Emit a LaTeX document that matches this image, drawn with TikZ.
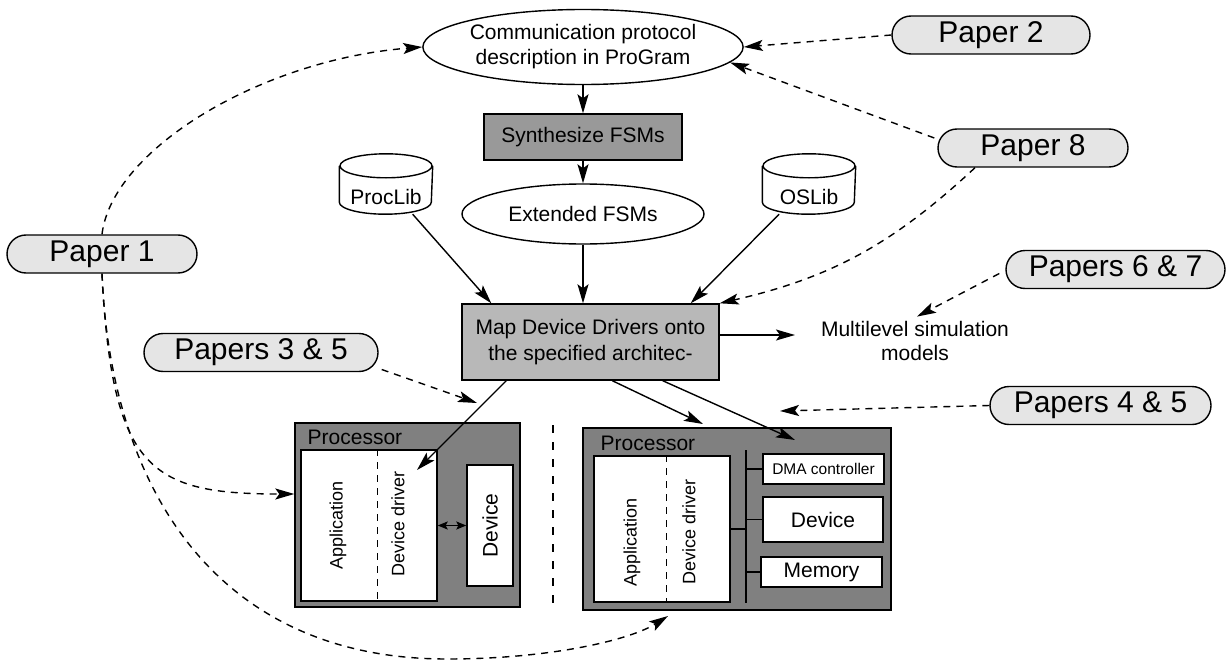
\documentclass[tikz,border=0pt]{standalone}
\usepackage{fontspec}
\setmainfont{Liberation Sans}
\usetikzlibrary{arrows.meta,shapes.geometric,shapes.misc}
\definecolor{pillgray}{gray}{0.9}
\definecolor{synthgray}{gray}{0.6}
\definecolor{mapgray}{gray}{0.72}
\definecolor{procgray}{gray}{0.5}

\begin{document}
\begin{tikzpicture}[x=1pt,y=-1pt,
  every node/.style={font=\fontsize{21}{25}\selectfont, inner sep=0pt},
  line width=1.4pt,
  arr/.style={-{Stealth[length=19pt,width=11pt,inset=4pt]}},
  darr/.style={arr, line width=1.4pt, dash pattern=on 7pt off 6pt},
  dbl/.style={{Stealth[length=10pt,width=8pt,inset=2pt]}-{Stealth[length=10pt,width=8pt,inset=2pt]}, line width=1.2pt},
  pill/.style={rounded rectangle, draw, fill=pillgray, minimum height=38pt,
    font=\fontsize{30}{32}\selectfont},
  oval/.style={ellipse, draw, fill=white, align=center},
  box/.style={rectangle, draw, align=center},
  cyl/.style={rectangle, minimum width=92pt, minimum height=59pt},
  vtext/.style={rotate=90, font=\fontsize{18}{20}\selectfont},
  divider/.style={line width=1pt, dash pattern=on 7pt off 6pt},
]
\useasboundingbox (0,0) rectangle (1229,661);

% --- design flow ---
\node[oval, minimum width=320pt, minimum height=75pt] (comm) at (583,47)
  {Communication protocol\\description in ProGram};
\node[box, fill=synthgray, minimum width=198pt, minimum height=46pt] (synth) at (583,137)
  {Synthesize FSMs};
\node[oval, minimum width=242pt, minimum height=60pt] (ext) at (583,214) {Extended FSMs};

% libraries drawn as cylinders
\node[cyl] (proclib) at (386,184) {};
\node[cyl] (oslib) at (809,184) {};
\foreach \c in {proclib,oslib}{
  \draw[fill=white] ([yshift=-12pt]\c.north west) -- ([yshift=12pt]\c.south west)
    arc[start angle=180, end angle=360, x radius=46pt, y radius=12pt]
    -- ([yshift=-12pt]\c.north east);
  \draw[fill=white] ([yshift=-12pt]\c.north) ellipse [x radius=46pt, y radius=12pt];
}
\node (proclibtxt) at (386,197) {ProcLib};
\node (oslibtxt) at (809,197) {OSLib};

\node[box, fill=mapgray, minimum width=257pt, minimum height=76pt,
  font=\fontsize{21}{26}\selectfont] (map) at (590.5,342)
  {Map Device Drivers onto\\the specified architec-};
\node[align=center, font=\fontsize{21}{24}\selectfont] (multi) at (915,341)
  {Multilevel simulation\\models};
\coordinate (multiin) at (795,335);

% --- target architectures ---
\node[box, fill=procgray, minimum width=225pt, minimum height=184pt] (procL) at (407.5,515) {};
\node[anchor=base west] (procLlbl) at (307,444) {Processor};
\node[box, fill=white, minimum width=136pt, minimum height=151pt] (innerL) at (369,525.5) {};
\draw[divider] ([xshift=8pt]innerL.north) -- ([xshift=8pt]innerL.south);
\node[vtext] (appL) at (338,525) {Application};
\node[vtext] (drvL) at (398,524) {Device driver};
\node[box, fill=white, rotate=90, minimum width=121pt, minimum height=46pt] (devL) at (490,525.5) {Device};
\draw[dbl] (innerL.east) -- (devL.north);

\draw[line width=1.3pt, dash pattern=on 8pt off 9pt] (553,425) -- (553,608);

\node[box, fill=procgray, minimum width=308pt, minimum height=182pt] (procR) at (737,519) {};
\node[anchor=base west] (procRlbl) at (600,450) {Processor};
\node[box, fill=white, minimum width=136pt, minimum height=146pt] (innerR) at (662,529) {};
\draw[divider] ([xshift=4pt]innerR.north) -- ([xshift=4pt]innerR.south);
\node[vtext] (appR) at (632,542) {Application};
\node[vtext] (drvR) at (689,532) {Device driver};
\coordinate (bustop) at (746,450);
\coordinate (busbot) at (746,603);
\draw[line width=2.6pt] (bustop) -- (busbot);
\node[box, fill=white, minimum width=121pt, minimum height=30pt,
  font=\fontsize{15.5}{17}\selectfont] (dma) at (823.5,469) {DMA controller};
\node[box, fill=white, minimum width=120pt, minimum height=45pt] (devR) at (823,519.5) {Device};
\node[box, fill=white, minimum width=121pt, minimum height=30pt] (mem) at (821.5,572) {Memory};
\draw (innerR.east) -- (innerR.east -| bustop);
\draw (dma.west) -- (dma.west -| bustop);
\draw (devR.west) -- (devR.west -| bustop);
\draw (mem.west) -- (mem.west -| bustop);

% --- flow arrows ---
\draw[arr] (comm) -- (synth);
\draw[arr] (synth) -- (ext);
\draw[arr] (ext) -- (ext |- map.north);
\draw[arr] (proclib) -- ([xshift=30pt]map.north west);
\draw[arr] (oslib) -- ([xshift=-29pt]map.north east);
\draw[arr] ([yshift=7pt]map.east) -- (multiin);
\coordinate (tL) at (417,470);
\coordinate (tR1) at (703,424);
\coordinate (tR2) at (795,440);
\draw[arr] ([xshift=45pt]map.south west) -- (tL);
\draw[arr] ([xshift=151pt]map.south west) -- (tR1);
\draw[arr] ([xshift=-57pt]map.south east) -- (tR2);

% --- paper references ---
\node[pill, minimum width=190pt] (p1) at (102,254) {Paper 1};
\node[pill, minimum width=198pt] (p2) at (991,35) {Paper 2};
\node[pill, minimum width=190pt] (p8) at (1033,148) {Paper 8};
\node[pill, minimum width=234pt] (p35) at (261,352.5) {Papers 3 \& 5};
\node[pill, minimum width=219pt] (p67) at (1115.5,269.5) {Papers 6 \& 7};
\node[pill, minimum width=221pt] (p45) at (1100.5,405.5) {Papers 4 \& 5};

\coordinate (t45) at (780,411);
\coordinate (t35) at (477,403);
\coordinate (t1) at (668,616);

\draw[darr] (p2.west) -- (comm.east);
\draw[darr] ([xshift=-3pt,yshift=10pt]p8.west) -- (comm.-6);
\draw[darr] ([xshift=-58pt]p8.south) to[bend left=15] (map.north east);
\draw[darr] ([xshift=-6pt,yshift=-4pt]p67.west) -- ([xshift=2pt,yshift=4pt]multi.north);
\draw[darr] (p45.west) -- (t45);
\draw[darr] ([xshift=3pt,yshift=-17pt]p35.east) -- (t35);
\draw[darr] (p1.north) .. controls (112,150) and (260,60) .. (comm.west);
\draw[darr] (p1.south) .. controls (112,470) and (150,494) .. ([yshift=21pt]procL.west);
\draw[darr] (p1.south) .. controls (110,480) and (210,659) .. (447,659)
  .. controls (550,659) and (630,640) .. (t1);
\end{tikzpicture}
\end{document}
